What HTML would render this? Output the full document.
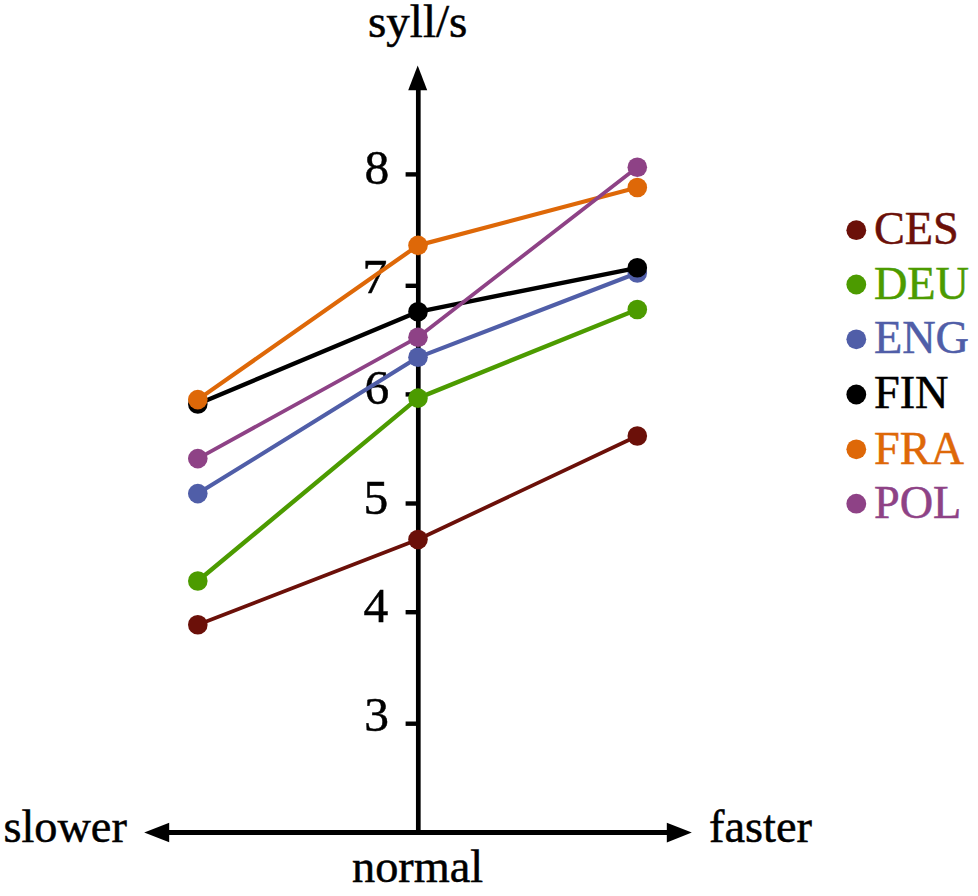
<!DOCTYPE html>
<html lang="en">
<head>
<meta charset="utf-8">
<title>Speech rate (syll/s) by tempo and language</title>
<style>
  html, body { margin: 0; padding: 0; background: #ffffff; }
  body { width: 978px; height: 896px; overflow: hidden; }
  #chart { width: 978px; height: 896px; }
  svg { display: block; }
  text { font-family: "Liberation Serif", "Times New Roman", Times, serif; }
  .lab { font-size: 46.3px; fill: #000000; stroke: #000000; stroke-width: 0.5px; }
  .num { font-size: 49.5px; fill: #000000; stroke: #000000; stroke-width: 0.5px; }
  .leg { font-size: 46.3px; }
  .leg text { stroke-width: 0.5px; }
  .ax  { stroke: #000000; fill: none; }
  .ser { fill: none; stroke-linecap: round; stroke-linejoin: round; }
</style>
</head>
<body>
<div id="chart">
<svg width="978" height="896" viewBox="0 0 978 896">
  <rect x="0" y="0" width="978" height="896" fill="#ffffff"/>

  <!-- axis title and category labels -->
  <text class="lab" x="368" y="37.2" textLength="99.4" lengthAdjust="spacingAndGlyphs">syll/s</text>
  <text class="lab" x="3.4" y="842">slower</text>
  <text class="lab" x="709.1" y="841.8">faster</text>
  <text class="lab" x="352" y="882.2">normal</text>

  <!-- y tick labels -->
  <text class="num" x="364.6" y="183.6">8</text>
  <text class="num" x="362.6" y="293.3">7</text>
  <text class="num" x="364.4" y="404.4">6</text>
  <text class="num" x="363.6" y="513.8">5</text>
  <text class="num" x="363.6" y="621.7">4</text>
  <text class="num" x="364.2" y="730.8">3</text>

  <!-- axes -->
  <line class="ax" x1="418.3" y1="88" x2="418.3" y2="835" stroke-width="4.7"/>
  <line class="ax" x1="166" y1="832.5" x2="670" y2="832.5" stroke-width="5"/>
  <polygon points="417.7,65.4 427.2,90.2 408.2,90.2" fill="#000000"/>
  <polygon points="144.2,832.5 169.2,822.8 169.2,842.2" fill="#000000"/>
  <polygon points="691.8,832.5 666.8,822.8 666.8,842.4" fill="#000000"/>

  <!-- ticks -->
  <g class="ax" stroke-width="4.4">
    <line x1="405.6" y1="174.4" x2="418" y2="174.4"/>
    <line x1="405.6" y1="285.8" x2="418" y2="285.8"/>
    <line x1="405.6" y1="394.4" x2="418" y2="394.4"/>
    <line x1="405.6" y1="503.5" x2="418" y2="503.5"/>
    <line x1="405.6" y1="612.2" x2="418" y2="612.2"/>
    <line x1="405.6" y1="723.7" x2="418" y2="723.7"/>
  </g>

  <!-- series: CES -->
  <g fill="#6b1009" stroke="#6b1009" stroke-width="3.8">
    <polyline class="ser" points="197.8,624.7 418,539.5 637.3,436"/>
    <circle cx="197.8" cy="624.7" r="9.8" stroke="none"/>
    <circle cx="418" cy="539.5" r="9.8" stroke="none"/>
    <circle cx="637.3" cy="436" r="9.8" stroke="none"/>
  </g>
  <!-- series: DEU -->
  <g fill="#4c9b00" stroke="#4c9b00" stroke-width="4.4">
    <polyline class="ser" points="197.8,581 418,398.1 637.3,309.5"/>
    <circle cx="197.8" cy="581" r="9.8" stroke="none"/>
    <circle cx="418" cy="398.1" r="9.8" stroke="none"/>
    <circle cx="637.3" cy="309.5" r="9.8" stroke="none"/>
  </g>
  <!-- series: ENG -->
  <g fill="#505ea8" stroke="#505ea8" stroke-width="4.1">
    <polyline class="ser" points="197.8,493.6 418,357.3 637.3,273"/>
    <circle cx="197.8" cy="493.6" r="9.8" stroke="none"/>
    <circle cx="418" cy="357.3" r="9.8" stroke="none"/>
    <circle cx="637.3" cy="273" r="9.8" stroke="none"/>
  </g>
  <!-- series: FIN -->
  <g fill="#000000" stroke="#000000" stroke-width="4.4">
    <polyline class="ser" points="197.8,404 418,311.8 637.3,267.8"/>
    <circle cx="197.8" cy="404" r="9.8" stroke="none"/>
    <circle cx="418" cy="311.8" r="9.8" stroke="none"/>
    <circle cx="637.3" cy="267.8" r="9.8" stroke="none"/>
  </g>
  <!-- series: FRA -->
  <g fill="#de6808" stroke="#de6808" stroke-width="4.2">
    <polyline class="ser" points="197.8,399.6 418,245.4 637.3,187.5"/>
    <circle cx="197.8" cy="399.6" r="9.8" stroke="none"/>
    <circle cx="418" cy="245.4" r="9.8" stroke="none"/>
    <circle cx="637.3" cy="187.5" r="9.8" stroke="none"/>
  </g>
  <!-- series: POL -->
  <g fill="#8e4286" stroke="#8e4286" stroke-width="3.8">
    <polyline class="ser" points="197.8,458.6 418,337.2 637.3,167.2"/>
    <circle cx="197.8" cy="458.6" r="9.8" stroke="none"/>
    <circle cx="418" cy="337.2" r="9.8" stroke="none"/>
    <circle cx="637.3" cy="167.2" r="9.8" stroke="none"/>
  </g>

  <!-- legend -->
  <g class="leg">
    <circle cx="856.3" cy="230.2" r="9.9" fill="#6b1009"/>
    <text x="873.9" y="244.2" fill="#6b1009" stroke="#6b1009">CES</text>
    <circle cx="856.3" cy="284.5" r="9.9" fill="#4c9b00"/>
    <text x="873.9" y="299.2" fill="#4c9b00" stroke="#4c9b00">DEU</text>
    <circle cx="856.3" cy="339.3" r="9.9" fill="#505ea8"/>
    <text x="873.9" y="352.8" fill="#505ea8" stroke="#505ea8">ENG</text>
    <circle cx="856.3" cy="394.5" r="9.9" fill="#000000"/>
    <text x="873.9" y="408.2" fill="#000000" stroke="#000000">FIN</text>
    <circle cx="856.3" cy="449.3" r="9.9" fill="#de6808"/>
    <text x="873.9" y="464" fill="#de6808" stroke="#de6808">FRA</text>
    <circle cx="856.3" cy="503.7" r="9.9" fill="#8e4286"/>
    <text x="873.9" y="518" fill="#8e4286" stroke="#8e4286">POL</text>
  </g>
</svg>
</div>
</body>
</html>
